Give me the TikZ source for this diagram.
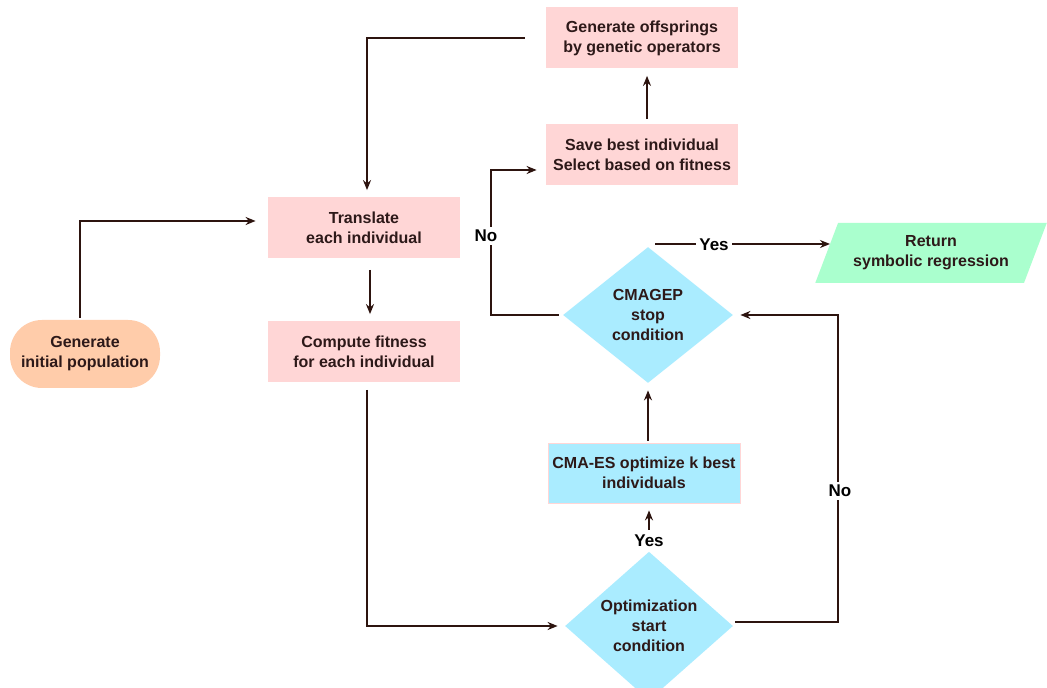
\documentclass[tikz,border=0pt]{standalone}
\usepackage{fontspec}
\setmainfont{Liberation Sans}
\usetikzlibrary{shapes.geometric,arrows.meta}
\definecolor{ln}{RGB}{45,20,15}
\definecolor{txt}{RGB}{45,25,25}
\definecolor{pinkbox}{RGB}{255,214,214}
\definecolor{peach}{RGB}{255,204,170}
\definecolor{cyanbox}{RGB}{170,236,255}
\definecolor{greenbox}{RGB}{170,255,206}
\begin{document}
\begin{tikzpicture}[x=0.5pt,y=-0.5pt,
  every node/.style={font=\fontsize{8}{10}\selectfont\bfseries, text=txt, align=center, inner sep=0pt},
  pinkrect/.style={fill=pinkbox, minimum width=96pt, minimum height=30.5pt},
  cyanrect/.style={fill=cyanbox, draw=pinkbox, line width=0.4pt, minimum width=96pt, minimum height=30pt},
  pill/.style={fill=peach, rounded corners=16pt, minimum width=75pt, minimum height=34pt},
  decision/.style={diamond, fill=cyanbox, inner sep=0pt},
  lbl/.style={fill=white, inner sep=1.5pt, font=\fontsize{8.5}{10}\selectfont\bfseries, text=black},
  conn/.style={draw=ln, line width=0.8pt, -{Stealth[length=5pt,width=4pt]}},
  heavy/.style={line width=1.4pt}
]
\path[use as bounding box, fill=white] (0,0) rectangle (1047,688);

% nodes
\node[pill] (init) at (85,354) {Generate\\initial population};
\node[pinkrect] (trans) at (364,228) {Translate\\each individual};
\node[pinkrect] (fit) at (364,352) {Compute fitness\\for each individual};
\node[pinkrect] (save) at (642,155) {Save best individual\\Select based on fitness};
\node[pinkrect] (offs) at (642,38) {Generate offsprings\\by genetic operators};
\node[decision, minimum width=85pt, minimum height=68pt] (stop) at (648,315) {CMAGEP\\stop\\condition};
\node[cyanrect] (cma) at (644,473) {CMA-ES optimize k best\\individuals};
\node[decision, minimum width=84pt, minimum height=66pt] (opt) at (649,626) {Optimization\\start\\condition};
\node[trapezium, trapezium left angle=61, trapezium right angle=119, trapezium stretches=true,
      minimum width=116pt, minimum height=30pt, fill=greenbox] (ret) at (931,253) {Return\\symbolic regression};

% helper coordinates
\coordinate (noR) at (838,0);
\coordinate (noL) at (491,0);
\coordinate (yesEnd) at (830,244);
\coordinate (yesStart) at (655,244);

% connectors
\draw[conn, shorten >=6pt] ([xshift=-2.5pt,yshift=1pt]init.north) |- ([yshift=3.5pt]trans.west);
\draw[conn, shorten <=10.5pt, shorten >=3.5pt] (offs.west) -| ([xshift=1.5pt]trans.north);
\draw[conn, shorten <=5.5pt, shorten >=3.5pt] ([xshift=3pt]trans.south) -- ([xshift=3pt]fit.north);
\draw[conn, heavy, shorten <=3.5pt, shorten >=3.5pt] ([xshift=1.5pt]fit.south) |- (opt.west);
\draw[conn, heavy, shorten <=1pt, shorten >=3.5pt] ([yshift=2pt]opt.east) -| (noR |- stop.east) -- (stop.east);
\draw[conn, shorten >=3.5pt] ([yshift=1pt]cma.north -| stop.south) -- (stop.south);
\draw[conn, heavy, shorten <=2pt, shorten >=4.5pt] (stop.west) -- (noL |- stop.west) |- ([yshift=-7.5pt]save.west);
\draw[conn] (yesStart) -- (yesEnd);
\draw[conn, shorten <=2.5pt, shorten >=3.5pt] ([xshift=2.5pt]save.north) -- ([xshift=2.5pt]offs.south);

% labels
\node[lbl] (noLbl1) at (486,236) {No};
\node[lbl] (noLbl2) at (840,491) {No};
\node[lbl] (yesLbl1) at (714,245) {Yes};
\node[lbl] (yesLbl2) at (649,541) {Yes};
\draw[conn, shorten <=1pt, shorten >=3.5pt] (yesLbl2.north) -- (yesLbl2.north |- cma.south);
\end{tikzpicture}
\end{document}
